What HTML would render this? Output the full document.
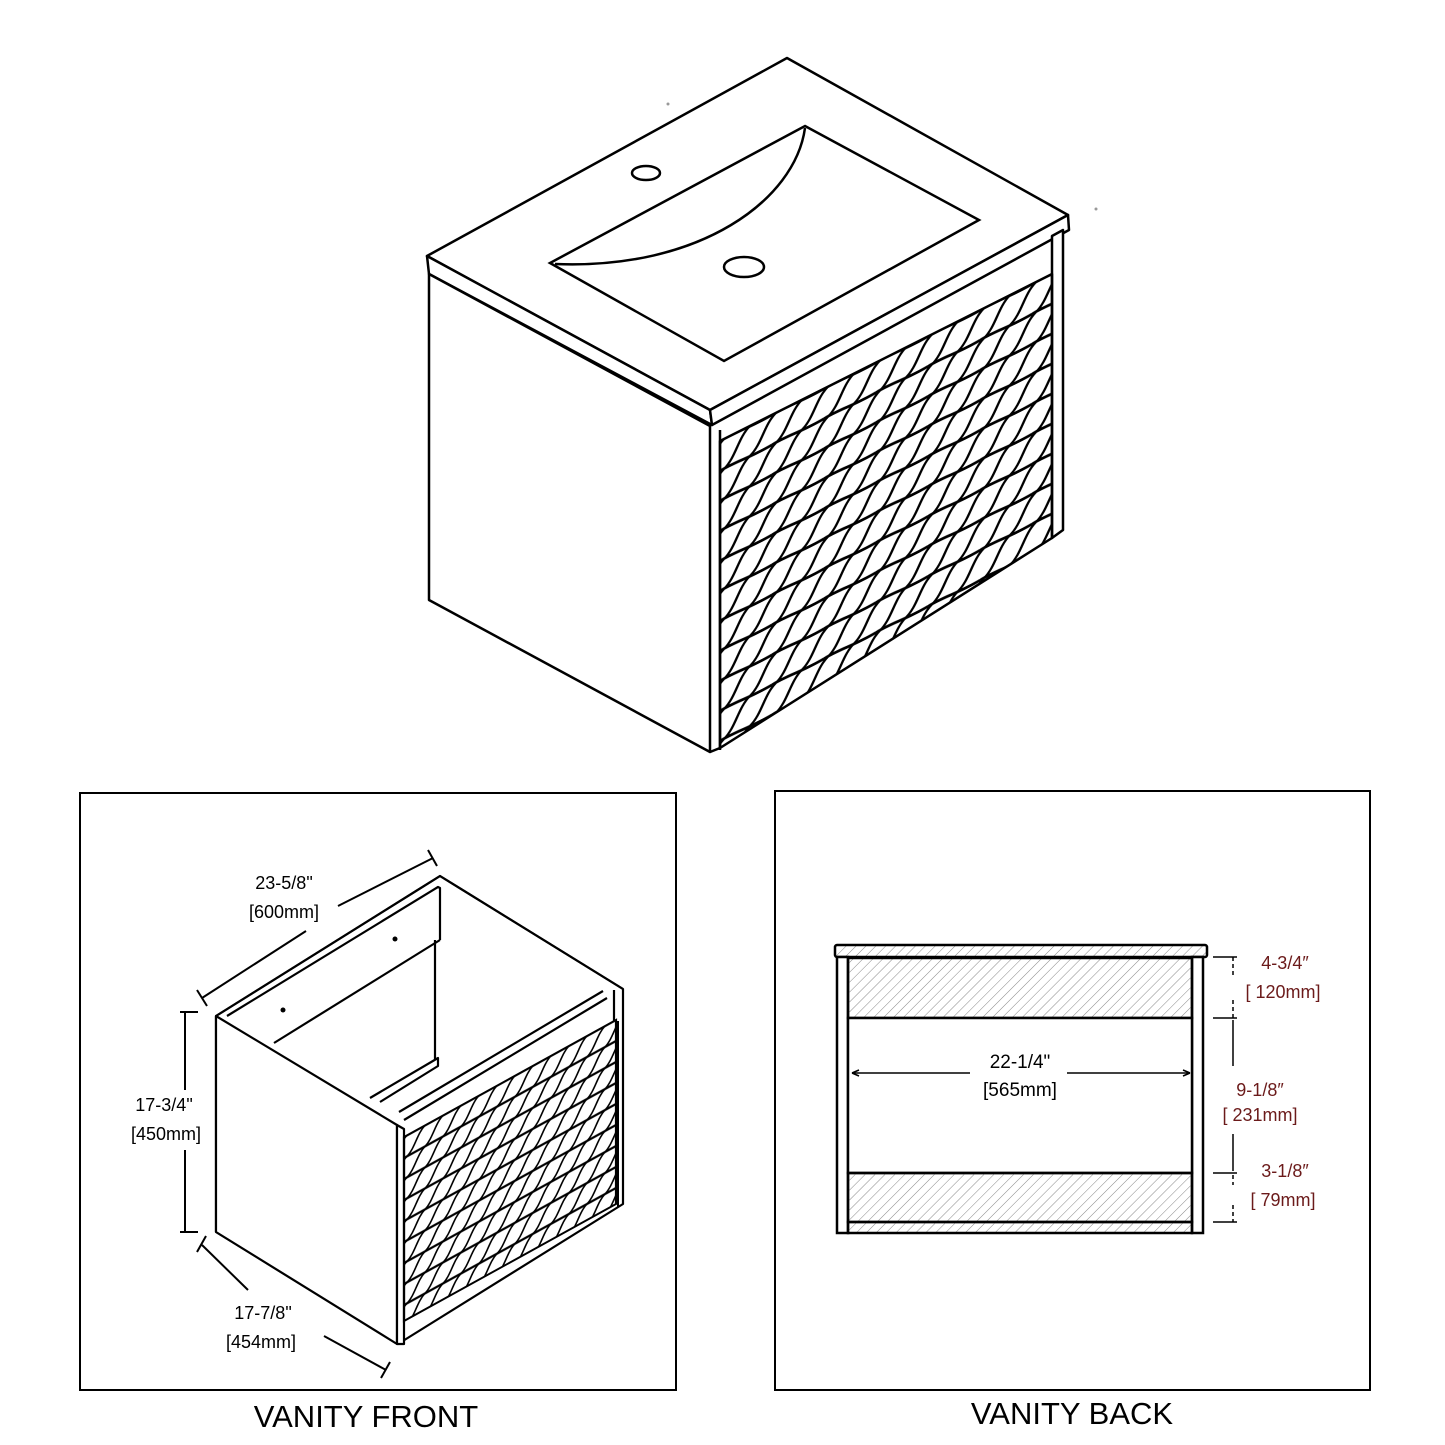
<!DOCTYPE html>
<html><head><meta charset="utf-8"><style>
html,body{margin:0;padding:0;background:#fff;}
svg{display:block}
text{font-family:"Liberation Sans",sans-serif;}
</style></head><body>
<svg width="1445" height="1445" viewBox="0 0 1445 1445" xmlns="http://www.w3.org/2000/svg">
<defs>
<pattern id="wave" x="0" y="0" width="52" height="30" patternUnits="userSpaceOnUse">
<path d="M0,30 C15,28 30,32 52,30 M0,0 C15,-2 30,2 52,0" stroke="#000" stroke-width="3" fill="none"/>
<path d="M4,30 C16,24 18,6 30,0 M30,30 C42,24 44,6 56,0 M-22,30 C-10,24 -8,6 4,0" stroke="#000" stroke-width="2.8" fill="none"/>
</pattern>
<pattern id="wave2" x="0" y="0" width="36" height="21" patternUnits="userSpaceOnUse">
<path d="M0,21 L36,21 M0,0 L36,0" stroke="#000" stroke-width="2.4" fill="none"/>
<path d="M3,21 C11,17 13,4 21,0 M21,21 C29,17 31,4 39,0 M-15,21 C-7,17 -5,4 3,0" stroke="#000" stroke-width="2" fill="none"/>
</pattern>
<pattern id="hatch" width="7" height="7" patternUnits="userSpaceOnUse" patternTransform="rotate(45)">
<line x1="0" y1="0" x2="0" y2="7" stroke="#888" stroke-width="1"/>
</pattern>
<clipPath id="doorclip"><polygon points="720,441 1052,274 1052,538 720,748"/></clipPath>
</defs>

<!-- TOP DRAWING -->
<g stroke="#000" stroke-width="2.5" fill="#fff" stroke-linejoin="round">
<polygon points="787,58 1068,215 710,410 427,256"/>
<polygon points="427,256 710,410 712,425 429,274"/>
<polygon points="710,410 1068,215 1069,230 712,425"/>
<polygon points="429,274 710,426 710,752 429,600"/>
<line x1="720" y1="430" x2="720" y2="750"/>
<line x1="710" y1="752" x2="720" y2="748"/>
<polygon points="1052,236 1063,230 1063,530 1052,538"/>
</g>
<g clip-path="url(#doorclip)">
<g transform="matrix(1,-0.503,0,1,720,441)">
<rect x="0" y="0" width="332" height="320" fill="url(#wave)"/>
</g>
</g>
<polygon points="720,441 1052,274 1052,538 720,748" fill="none" stroke="#000" stroke-width="2.5" stroke-linejoin="round"/>
<g stroke="#000" stroke-width="2.5" fill="none">
<polygon points="805,126 979,220 724,361 550,263"/>
<path d="M805,128 C795,200 700,270 555,264"/>
<ellipse cx="646" cy="173" rx="14" ry="7"/>
<ellipse cx="744" cy="267" rx="20" ry="10"/>
</g>
<circle cx="668" cy="104" r="1.5" fill="#999"/>
<circle cx="1096" cy="209" r="1.5" fill="#999"/>

<!-- LEFT PANEL -->
<rect x="80" y="793" width="596" height="597" fill="none" stroke="#000" stroke-width="2"/>
<g stroke="#000" stroke-width="2.2" fill="#fff" stroke-linejoin="round">
<polygon points="440,876 623,989 623,1204 398,1344 216,1232 216,1016"/>
<polyline points="216,1016 440,876 623,989" fill="none"/>
<polyline points="227,1016 438,887 440,888 440,940" fill="none"/>
<line x1="274" y1="1043" x2="440" y2="940"/>
<line x1="435" y1="940" x2="435" y2="1060"/>
<polyline points="370,1098 438,1058 438,1066 380,1102" fill="none"/>
<line x1="603" y1="991" x2="399" y2="1112"/>
<line x1="607" y1="998" x2="404" y2="1120"/>
<line x1="614" y1="990" x2="614" y2="1021"/>
<polygon points="216,1016 397,1125 397,1344 216,1232"/>
<polygon points="397,1125 404,1129 404,1344 397,1344"/>
</g>
<g transform="matrix(1,-0.552,0,1,404,1137)">
<rect x="0" y="0" width="212" height="184" fill="url(#wave2)"/>
<rect x="0" y="0" width="212" height="184" fill="none" stroke="#000" stroke-width="2.2"/>
</g>
<line x1="618" y1="1207" x2="618" y2="1021" stroke="#000" stroke-width="2"/>
<circle cx="283" cy="1010" r="2.5"/>
<circle cx="395" cy="939" r="2.5"/>
<g stroke="#000" stroke-width="2" fill="none">
<line x1="202" y1="998" x2="306" y2="931"/>
<line x1="338" y1="906" x2="433" y2="858"/>
<line x1="197" y1="990" x2="207" y2="1006"/>
<line x1="428" y1="850" x2="437" y2="866"/>
<line x1="185" y1="1012" x2="185" y2="1090"/>
<line x1="185" y1="1150" x2="185" y2="1232"/>
<line x1="180" y1="1012" x2="198" y2="1012"/>
<line x1="180" y1="1232" x2="198" y2="1232"/>
<line x1="202" y1="1245" x2="248" y2="1290"/>
<line x1="324" y1="1336" x2="386" y2="1370"/>
<line x1="197" y1="1252" x2="206" y2="1236"/>
<line x1="381" y1="1378" x2="390" y2="1362"/>
</g>
<g font-size="18" text-anchor="middle" fill="#000">
<text x="284" y="889">23-5/8"</text>
<text x="284" y="918">[600mm]</text>
<text x="164" y="1111">17-3/4"</text>
<text x="166" y="1140">[450mm]</text>
<text x="263" y="1319">17-7/8"</text>
<text x="261" y="1348">[454mm]</text>
</g>
<text x="366" y="1427" font-size="31" text-anchor="middle">VANITY FRONT</text>

<!-- RIGHT PANEL -->
<rect x="775" y="791" width="595" height="599" fill="none" stroke="#000" stroke-width="2"/>
<g stroke="#000" stroke-width="2.5">
<rect x="835" y="945" width="372" height="12" rx="2" fill="url(#hatch)"/>
<rect x="837" y="957" width="11" height="276" fill="#fff"/>
<rect x="1192" y="957" width="11" height="276" fill="#fff"/>
<rect x="848" y="958" width="344" height="60" fill="url(#hatch)"/>
<rect x="848" y="1018" width="344" height="155" fill="#fff"/>
<rect x="848" y="1173" width="344" height="49" fill="url(#hatch)"/>
<rect x="848" y="1222" width="344" height="11" fill="url(#hatch)"/>
</g>
<g stroke="#000" stroke-width="1.5" fill="none">
<line x1="852" y1="1073" x2="970" y2="1073"/>
<line x1="1067" y1="1073" x2="1190" y2="1073"/>
<path d="M852,1073 l7,-3 M852,1073 l7,3 M1190,1073 l-7,-3 M1190,1073 l-7,3"/>
<line x1="1213" y1="957" x2="1237" y2="957"/>
<line x1="1213" y1="1018" x2="1237" y2="1018"/>
<line x1="1213" y1="1173" x2="1237" y2="1173"/>
<line x1="1213" y1="1222" x2="1237" y2="1222"/>
<line x1="1233" y1="957" x2="1233" y2="975" stroke-dasharray="4,3"/>
<line x1="1233" y1="1000" x2="1233" y2="1018" stroke-dasharray="4,3"/>
<line x1="1233" y1="1020" x2="1233" y2="1066"/>
<line x1="1233" y1="1134" x2="1233" y2="1171"/>
<line x1="1233" y1="1175" x2="1233" y2="1185" stroke-dasharray="4,3"/>
<line x1="1233" y1="1205" x2="1233" y2="1222" stroke-dasharray="4,3"/>
</g>
<g font-size="19" text-anchor="middle" fill="#000">
<text x="1020" y="1068">22-1/4"</text>
<text x="1020" y="1096">[565mm]</text>
</g>
<g font-size="18" text-anchor="middle" fill="#6b1a1a">
<text x="1285" y="969">4-3/4″</text>
<text x="1283" y="998">[ 120mm]</text>
<text x="1260" y="1096">9-1/8″</text>
<text x="1260" y="1121">[ 231mm]</text>
<text x="1285" y="1177">3-1/8″</text>
<text x="1283" y="1206">[ 79mm]</text>
</g>
<text x="1072" y="1424" font-size="31" text-anchor="middle">VANITY BACK</text>
</svg>
</body></html>
